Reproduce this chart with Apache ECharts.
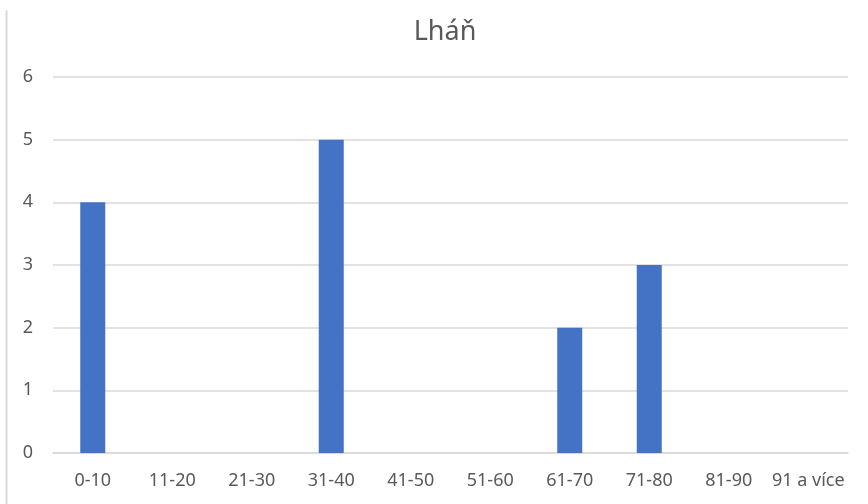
<!DOCTYPE html>
<html><head><meta charset="utf-8">
<script src="https://cdn.jsdelivr.net/npm/echarts@6/dist/echarts.min.js"></script>
<style>html,body{margin:0;padding:0;background:#fff}#c{width:868px;height:504px}</style>
</head><body><div id="c"></div>
<script>
const categories = ['0-10','11-20','21-30','31-40','41-50','51-60','61-70','71-80','81-90','91 a více'];
const values = [4,0,0,5,0,0,2,3,0,0];
const yTicks = [0,6,1];
const chart = echarts.init(document.getElementById('c'));
chart.setOption({
  animation:false,
  title:{text:'Lháň',left:440,top:14,textAlign:'center',textStyle:{fontFamily:'Noto Sans',fontSize:27,fontWeight:'normal',color:'#595959'}},
  graphic:[{type:'line',shape:{x1:6.5,y1:10,x2:6.5,y2:504},style:{stroke:'#d9d9d9',lineWidth:2}}],
  grid:{left:53,right:20,top:77,bottom:51},
  xAxis:{type:'category',data:categories,axisLine:{show:true,lineStyle:{color:'#d9d9d9',width:1.5}},axisTick:{show:false},
    axisLabel:{interval:0,hideOverlap:false,fontFamily:'Noto Sans',fontSize:18,color:'#595959',margin:19}},
  yAxis:{type:'value',min:yTicks[0],max:yTicks[1],interval:yTicks[2],axisLine:{show:false},axisTick:{show:false},
    splitLine:{lineStyle:{color:'#d9d9d9',width:1.5}},
    axisLabel:{fontFamily:'Noto Sans',fontSize:18,color:'#595959',margin:20}},
  series:[{type:'bar',data:values,barWidth:25,itemStyle:{color:'#4472c4'}}]
});
</script></body></html>
